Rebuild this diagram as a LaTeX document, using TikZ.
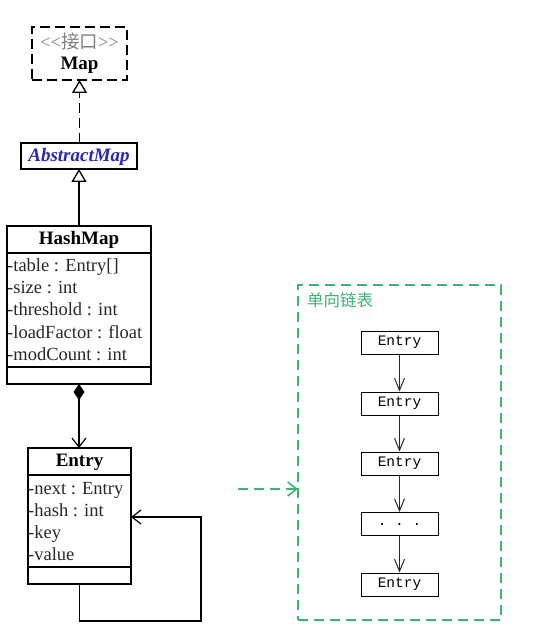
\documentclass[tikz,border=0pt]{standalone}
\usepackage{fontspec}
\setmainfont{Liberation Serif}
\setmonofont{Liberation Mono}
\newfontfamily\cjk{Noto Sans CJK SC}
\usetikzlibrary{arrows.meta}
\definecolor{lgreen}{RGB}{60,180,120}
\definecolor{ablue}{RGB}{40,40,180}
\definecolor{txt}{RGB}{40,40,40}
\tikzset{
  x=1pt, y=-1pt,
  classbox/.style={draw=black, line width=1.6pt, anchor=north west, inner sep=0pt, outer sep=0pt},
  attr/.style={anchor=west, inner sep=0pt, text height=13pt, text depth=4pt, font=\fontsize{18.5}{20}\selectfont, text=txt},
  ttl/.style={inner sep=0pt, text height=13pt, text depth=4pt, font=\fontsize{19}{20}\selectfont\bfseries},
  chainbox/.style={draw=black, line width=1pt, minimum width=77pt, minimum height=23pt, inner sep=0pt, font=\fontsize{14.5}{16}\ttfamily},
  chainarrow/.style={draw=txt, line width=1pt, -{Straight Barb[length=12pt,width=10pt,line width=1pt]}},
  inherit/.style={line width=1.4pt, -{Triangle[open,length=13pt,width=15pt,line width=1.3pt]}}
}
\begin{document}
\begin{tikzpicture}
\useasboundingbox (0,0) rectangle (542,644);
\fill[white] (0,0) rectangle (542,644);

% Map interface
\node[classbox, dashed, dash pattern=on 10pt off 5pt, minimum width=95pt, minimum height=53pt] (map) at (32,27) {};
\node[inner sep=0pt, text=gray, font=\fontsize{18.5}{20}\selectfont] (mapst) at (79.5,42) {\symbol{60}\symbol{60}{\cjk 接口}\symbol{62}\symbol{62}};
\node[ttl] (mapname) at (79.5,65) {Map};

% AbstractMap
\node[classbox, line width=1.2pt, minimum width=116pt, minimum height=26pt] (abs) at (21,143) {};
\node[ttl, font=\fontsize{19}{20}\selectfont\bfseries\itshape, text=ablue] (absname) at (79,157) {AbstractMap};

\draw[inherit, dash pattern=on 10pt off 5pt] (abs.north -| map.south) -- (map.south);

% HashMap
\node[classbox, minimum width=144pt, minimum height=158pt] (hm) at (7,226) {};
\node[ttl] (hmname) at (79,239.5) {HashMap};
\draw[line width=1.6pt] (7,253) coordinate (hs1) -- (151,253) coordinate (hs2);
\draw[line width=1.6pt] (7,367) coordinate (hs3) -- (151,367) coordinate (hs4);
\node[attr] (h1) at (7,266.5) {-table : Entry[]};
\node[attr] (h2) at (7,288.5) {-size : int};
\node[attr] (h3) at (7,311) {-threshold : int};
\node[attr] (h4) at (7,333.5) {-loadFactor : float};
\node[attr] (h5) at (7,355.5) {-modCount : int};

\draw[inherit] (hm.north) -- (abs.south -| hm.north);

% Entry
\node[classbox, minimum width=103pt, minimum height=136pt] (en) at (28,448) {};
\node[ttl] (enname) at (79.5,462) {Entry};
\draw[line width=1.6pt] (28,475) coordinate (es1) -- (131,475) coordinate (es2);
\draw[line width=1.6pt] (28,567) coordinate (es3) -- (131,567) coordinate (es4);
\node[attr] (e1a) at (28,489.5) {-next : Entry};
\node[attr] (e2a) at (28,511.5) {-hash : int};
\node[attr] (e3a) at (28,533.5) {-key};
\node[attr] (e4a) at (28,555.5) {-value};

\draw[line width=1.4pt, {Diamond[length=16pt,width=11pt]}-{Straight Barb[length=9pt,width=14pt,line width=1.2pt]}] (hm.south) -- (hm.south |- en.north);

% self loop
\coordinate (lp2) at (201,621);
\coordinate (lp3) at (201,517);
\draw[line width=1.4pt, -{Straight Barb[length=9pt,width=14pt,line width=1.2pt]}] (en.south) |- (lp2) -- (lp3) -- (en.east |- lp3);

% singly linked list
\node[draw=lgreen, line width=1.8pt, dash pattern=on 10pt off 6pt, minimum width=203pt, minimum height=335pt, anchor=north west, inner sep=0pt, outer sep=0pt] (list) at (298,285) {};
\node[anchor=west, inner sep=0pt, text=lgreen, font=\cjk\fontsize{16.5}{18}\selectfont] (listlbl) at (307,300) {单向链表};

\node[chainbox] (c1) at (399.5,342.5) {Entry};
\node[chainbox] (c2) at (399.5,403.5) {Entry};
\node[chainbox] (c3) at (399.5,463.5) {Entry};
\node[chainbox] (c4) at (399.5,524) {. . .};
\node[chainbox] (c5) at (399.5,584.5) {Entry};
\draw[chainarrow] (c1) -- (c2);
\draw[chainarrow] (c2) -- (c3);
\draw[chainarrow] (c3) -- (c4);
\draw[chainarrow] (c4) -- (c5);

\coordinate (g0) at (238,489);
\draw[draw=lgreen, line width=1.8pt, dash pattern=on 10pt off 6pt, -{Straight Barb[length=9pt,width=14pt,line width=1.6pt]}] (g0) -- (list.west |- g0);
\end{tikzpicture}
\end{document}
